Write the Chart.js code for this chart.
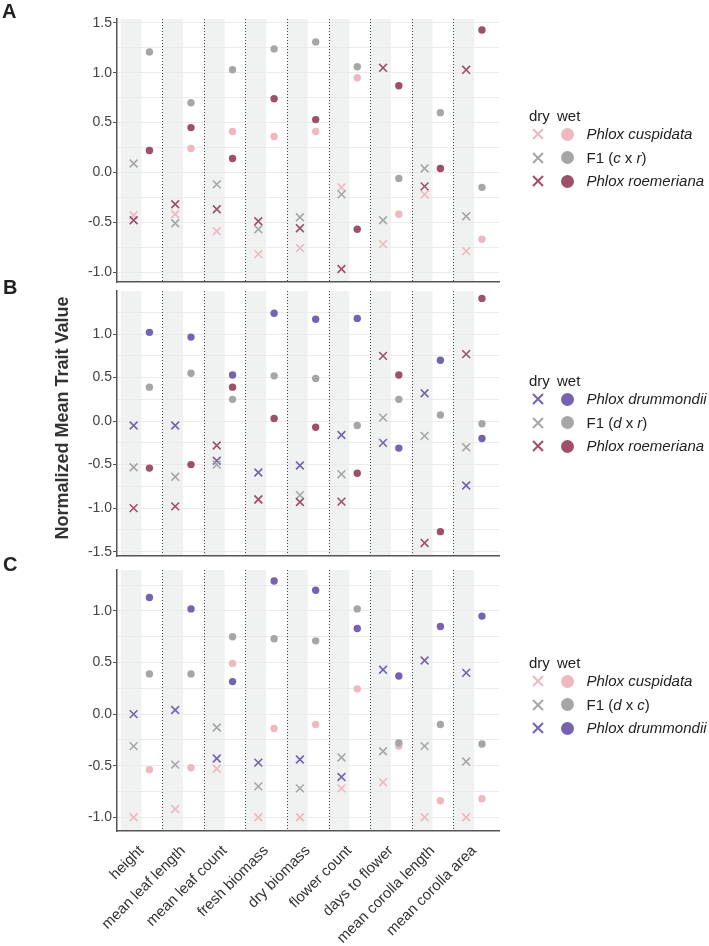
<!DOCTYPE html>
<html>
<head>
<meta charset="utf-8">
<script src="https://cdn.jsdelivr.net/npm/chart.js@4"></script>
<style>
  body { margin: 0; background: #fff; font-family: "Liberation Sans", Arial, sans-serif; }
  #fig { position: relative; width: 709px; height: 946px; overflow: hidden; }
  canvas { position: absolute; left: 0; top: 0; }
  .letter { position: absolute; font-weight: bold; font-size: 20px; line-height: 20px; color: #222; }
  .ytitle { position: absolute; left: -88px; top: 408px; width: 300px; text-align: center;
            font-weight: bold; font-size: 18px; line-height: 20px; color: #333; transform: rotate(-90deg); }
  .lg { position: absolute; font-size: 15px; color: #222; white-space: nowrap; }
  .lg span { position: absolute; }
  .dot { position: absolute; width: 13px; height: 13px; border-radius: 50%; }
</style>
</head>
<body>
<div id="fig">
  <canvas id="chartA" width="709" height="946"></canvas>
  <canvas id="chartB" width="709" height="946"></canvas>
  <canvas id="chartC" width="709" height="946"></canvas>
  <div class="letter" style="left:2px;top:1px">A</div>
  <div class="letter" style="left:3px;top:277px">B</div>
  <div class="letter" style="left:3px;top:554px">C</div>
  <div class="ytitle">Normalized Mean Trait Value</div>
</div>
<script>
const traits = ['height', 'mean leaf length', 'mean leaf count', 'fresh biomass', 'dry biomass',
                'flower count', 'days to flower', 'mean corolla length', 'mean corolla area'];
const yLabels = [-1.5, -1.0, -0.5, 0.0, 0.5, 1.0, 1.5];

// panel A: cuspidata / F1 (c x r) / roemeriana
const aCuspDry = [-0.43, -0.42, -0.59, -0.82, -0.76, -0.15, -0.72, -0.22, -0.79];
const aCuspWet = [0.22, 0.24, 0.41, 0.36, 0.41, 0.95, -0.42, 0.04, -0.67];
const aF1Dry   = [0.09, -0.51, -0.12, -0.57, -0.45, -0.22, -0.48, 0.04, -0.44];
const aF1Wet   = [1.21, 0.70, 1.03, 1.24, 1.31, 1.06, -0.06, 0.60, -0.15];
const aRoemDry = [-0.48, -0.32, -0.37, -0.49, -0.56, -0.97, 1.05, -0.14, 1.03];
const aRoemWet = [0.22, 0.45, 0.14, 0.74, 0.53, -0.57, 0.87, 0.04, 1.43];

// panel B: drummondii / F1 (d x r) / roemeriana
const bDrumDry = [-0.05, -0.05, -0.455, -0.59, -0.51, -0.16, -0.25, 0.32, -0.74];
const bDrumWet = [1.02, 0.965, 0.53, 1.24, 1.17, 1.18, -0.31, 0.70, -0.20];
const bF1Dry   = [-0.53, -0.64, -0.50, -0.90, -0.85, -0.61, 0.04, -0.17, -0.30];
const bF1Wet   = [0.39, 0.55, 0.25, 0.52, 0.49, -0.05, 0.25, 0.07, -0.03];
const bRoemDry = [-1.00, -0.98, -0.28, -0.90, -0.93, -0.925, 0.75, -1.40, 0.77];
const bRoemWet = [-0.54, -0.50, 0.39, 0.03, -0.07, -0.60, 0.53, -1.27, 1.41];

// panel C: cuspidata / F1 (d x c) / drummondii
const cCuspDry = [-1.00, -0.92, -0.53, -1.00, -1.00, -0.72, -0.66, -1.00, -1.00];
const cCuspWet = [-0.54, -0.52, 0.49, -0.14, -0.10, 0.245, -0.31, -0.84, -0.82];
const cF1Dry   = [-0.31, -0.49, -0.13, -0.70, -0.72, -0.42, -0.36, -0.31, -0.46];
const cF1Wet   = [0.39, 0.39, 0.75, 0.73, 0.71, 1.02, -0.28, -0.10, -0.29];
const cDrumDry = [0.00, 0.04, -0.43, -0.47, -0.44, -0.61, 0.43, 0.52, 0.40];
const cDrumWet = [1.13, 1.02, 0.315, 1.29, 1.20, 0.83, 0.37, 0.85, 0.95];

const PINK = '#efb7c0', GREY = '#a6a6a6', ROSE = '#9f5069', PURPLE = '#7562b0';
const AXIS = '#555555';
const OFF = 0.19;

// grey band on the dry half of each trait, dotted separators between traits
const bandsPlugin = {
    id: 'bands',
    beforeDraw(chart) {
        const { ctx, chartArea: a, scales: { x } } = chart;
        ctx.save();
        ctx.fillStyle = '#f0f1f1';
        traits.forEach((t, i) => {
            const l = x.getPixelForValue(i + 0.5), r = x.getPixelForValue(i + 1);
            ctx.fillRect(l, a.top, r - l, a.bottom - a.top);
        });
        ctx.restore();
    },
    beforeDatasetsDraw(chart) {
        const { ctx, chartArea: a, scales: { x } } = chart;
        ctx.save();
        ctx.strokeStyle = '#444';
        ctx.lineWidth = 1;
        ctx.setLineDash([1, 2]);
        for (let i = 1; i < traits.length; i++) {
            const px = Math.round(x.getPixelForValue(i + 0.5)) + 0.5;
            ctx.beginPath();
            ctx.moveTo(px, a.top);
            ctx.lineTo(px, a.bottom);
            ctx.stroke();
        }
        ctx.restore();
    }
};

function series(vals, color, dry) {
    return {
        data: vals.map((v, i) => ({ x: i + 1 + (dry ? -OFF : OFF), y: v })),
        pointStyle: dry ? 'crossRot' : 'circle',
        pointRadius: dry ? 5.5 : 3.7,
        pointBorderWidth: dry ? 1.6 : 0,
        borderColor: color,
        backgroundColor: color,
        pointBorderColor: color,
        pointBackgroundColor: color
    };
}

function isLabel(v) {
    return yLabels.some(l => Math.abs(l - v) < 1e-6);
}

function makeChart(id, datasets, yMin, yMax, padTop, padBottom, showX) {
    // chart.js paints the first dataset on top, so reverse to get later series on top
    return new Chart(document.getElementById(id), {
        type: 'scatter',
        data: { datasets: datasets.slice().reverse() },
        plugins: [bandsPlugin],
        options: {
            responsive: false,
            animation: false,
            devicePixelRatio: 1,
            layout: { padding: { top: padTop, bottom: padBottom, left: 0, right: 210 } },
            plugins: { legend: { display: false }, tooltip: { enabled: false } },
            scales: {
                x: {
                    type: 'linear',
                    min: 0.41,
                    max: 9.6,
                    afterBuildTicks: axis => { axis.ticks = traits.map((t, i) => ({ value: i + 1 })); },
                    afterFit: axis => { axis.height = showX ? 115 : 0; },
                    grid: { display: false },
                    border: { display: true, color: AXIS, width: 1.5 },
                    ticks: {
                        display: showX,
                        autoSkip: false,
                        minRotation: 45,
                        maxRotation: 45,
                        padding: 3,
                        color: '#333',
                        font: { family: 'Liberation Sans', size: 15 },
                        callback: v => traits[Math.round(v) - 1]
                    }
                },
                y: {
                    min: yMin,
                    max: yMax,
                    afterBuildTicks: axis => {
                        const t = [];
                        for (let k = Math.ceil(yMin / 0.25); k <= Math.floor(yMax / 0.25); k++) t.push({ value: k * 0.25 });
                        axis.ticks = t;
                    },
                    afterFit: axis => { axis.width = 117; },
                    grid: {
                        color: '#ebebeb',
                        lineWidth: 1,
                        tickLength: 4,
                        tickColor: c => (c.tick && isLabel(c.tick.value)) ? AXIS : 'rgba(0,0,0,0)'
                    },
                    border: { color: AXIS, width: 1.5 },
                    ticks: {
                        padding: 1,
                        color: '#444',
                        font: { family: 'Liberation Sans', size: 14 },
                        callback: v => isLabel(v) ? v.toFixed(1) : ''
                    }
                }
            }
        }
    });
}

makeChart('chartA', [
    series(aCuspDry, PINK, true), series(aF1Dry, GREY, true), series(aRoemDry, ROSE, true),
    series(aCuspWet, PINK, false), series(aF1Wet, GREY, false), series(aRoemWet, ROSE, false)
], -1.10, 1.54, 19, 946 - 282, false);

makeChart('chartB', [
    series(bDrumDry, PURPLE, true), series(bF1Dry, GREY, true), series(bRoemDry, ROSE, true),
    series(bDrumWet, PURPLE, false), series(bF1Wet, GREY, false), series(bRoemWet, ROSE, false)
], -1.55, 1.495, 291, 946 - 556, false);

makeChart('chartC', [
    series(cCuspDry, PINK, true), series(cF1Dry, GREY, true), series(cDrumDry, PURPLE, true),
    series(cCuspWet, PINK, false), series(cF1Wet, GREY, false), series(cDrumWet, PURPLE, false)
], -1.133, 1.397, 570, 0, true);

// legends drawn as html next to each panel
function addLegend(top, entries) {
    const fig = document.getElementById('fig');
    const box = document.createElement('div');
    box.className = 'lg';
    box.style.left = '529px';
    box.style.top = top + 'px';
    let html = '<span style="left:0;top:-9px">dry</span><span style="left:28px;top:-9px">wet</span>';
    entries.forEach((e, i) => {
        const cy = 18 + i * 23.5;
        html += `<svg style="position:absolute;left:3px;top:${cy - 6}px" width="12" height="12">
                   <path d="M1 1L11 11M11 1L1 11" stroke="${e.color}" stroke-width="2"/></svg>`;
        html += `<div class="dot" style="left:31.5px;top:${cy - 6.5}px;background:${e.color}"></div>`;
        html += `<span style="left:57.5px;top:${cy - 9}px">${e.label}</span>`;
    });
    box.innerHTML = html;
    fig.appendChild(box);
}

addLegend(116, [
    { color: PINK, label: '<i>Phlox cuspidata</i>' },
    { color: GREY, label: 'F1 (<i>c</i> x <i>r</i>)' },
    { color: ROSE, label: '<i>Phlox roemeriana</i>' }
]);
addLegend(381, [
    { color: PURPLE, label: '<i>Phlox drummondii</i>' },
    { color: GREY, label: 'F1 (<i>d</i> x <i>r</i>)' },
    { color: ROSE, label: '<i>Phlox roemeriana</i>' }
]);
addLegend(663, [
    { color: PINK, label: '<i>Phlox cuspidata</i>' },
    { color: GREY, label: 'F1 (<i>d</i> x <i>c</i>)' },
    { color: PURPLE, label: '<i>Phlox drummondii</i>' }
]);
</script>
</body>
</html>
